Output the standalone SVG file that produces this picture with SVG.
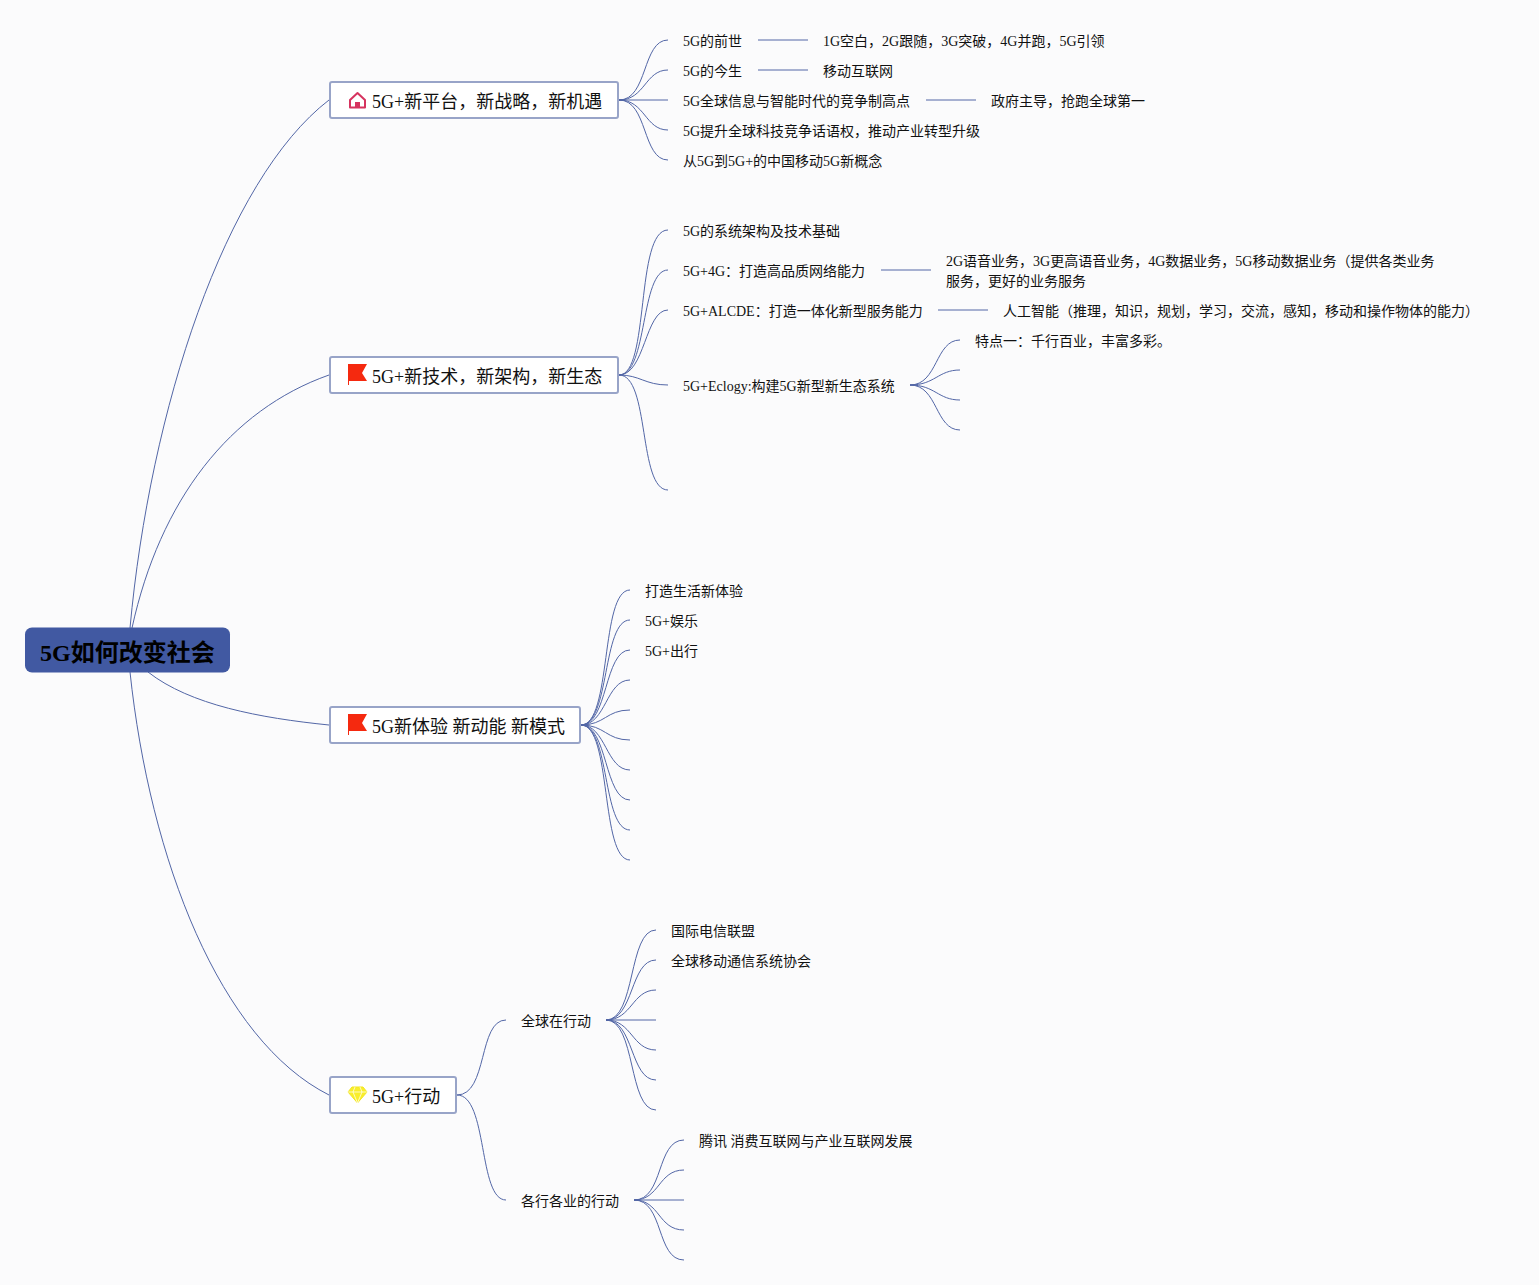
<svg xmlns="http://www.w3.org/2000/svg" width="1539" height="1285" viewBox="0 0 1539 1285">
<style>
text{font-family:"Liberation Serif","Noto Sans CJK SC",serif;fill:#111}
.l{font-size:14px}
.b{font-size:18px}
.r{font-size:24px;font-weight:bold;fill:#000}
.c path{fill:none;stroke:#5266a6;stroke-width:1}
.n{fill:#fff;stroke:#98a4c8;stroke-width:2}
</style>
<rect width="1539" height="1285" fill="#fbfbfc"/>
<g id="connectors" class="c">
<path d="M130 628C150 410 225 180 329 100"/>
<path d="M132 628C160 500 230 410 329 375"/>
<path d="M148 672C190 705 260 718 329 725"/>
<path d="M130 672C150 860 220 1040 329 1095"/>
<path d="M619 100C648 100 642 40 668 40"/>
<path d="M619 100C645 100 645 70 668 70"/>
<path d="M619 100H668"/>
<path d="M619 100C645 100 645 130 668 130"/>
<path d="M619 100C648 100 642 160 668 160"/>
<path d="M758 40H808"/><path d="M758 70H808"/><path d="M926 100H976"/>
<path d="M619 375C650 375 635 230 668 230"/>
<path d="M619 375C648 375 640 270 668 270"/>
<path d="M619 375C645 375 645 310 668 310"/>
<path d="M619 375C640 375 645 385 668 385"/>
<path d="M619 375C650 375 638 490 668 490"/>
<path d="M881 270H931"/><path d="M938 310H988"/>
<path d="M910 385C938 385 935 340 960 340"/>
<path d="M910 385C935 385 938 370 960 370"/>
<path d="M910 385C935 385 938 400 960 400"/>
<path d="M910 385C938 385 935 430 960 430"/>
<path d="M581 725C612 725 600 590 630 590"/>
<path d="M581 725C610 725 602 620 630 620"/>
<path d="M581 725C608 725 604 650 630 650"/>
<path d="M581 725C606 725 606 680 630 680"/>
<path d="M581 725C605 725 606 710 630 710"/>
<path d="M581 725C605 725 606 740 630 740"/>
<path d="M581 725C606 725 606 770 630 770"/>
<path d="M581 725C608 725 604 800 630 800"/>
<path d="M581 725C610 725 602 830 630 830"/>
<path d="M581 725C612 725 600 860 630 860"/>
<path d="M457 1095C488 1095 478 1020 506 1020"/>
<path d="M457 1095C488 1095 478 1200 506 1200"/>
<path d="M606 1020C636 1020 628 930 656 930"/>
<path d="M606 1020C634 1020 630 960 656 960"/>
<path d="M606 1020C632 1020 632 990 656 990"/>
<path d="M606 1020H656"/>
<path d="M606 1020C632 1020 632 1050 656 1050"/>
<path d="M606 1020C634 1020 630 1080 656 1080"/>
<path d="M606 1020C636 1020 628 1110 656 1110"/>
<path d="M634 1200C664 1200 656 1140 684 1140"/>
<path d="M634 1200C660 1200 658 1170 684 1170"/>
<path d="M634 1200H684"/>
<path d="M634 1200C660 1200 658 1230 684 1230"/>
<path d="M634 1200C664 1200 656 1260 684 1260"/>
</g>
<g id="root"><rect x="25" y="627.500" width="205" height="45" rx="7" fill="#4159a2"/><text class="r" x="40" y="661">5G如何改变社会</text></g>
<g id="b1"><rect class="n" x="330" y="82" width="288" height="36" rx="2"/>
<path d="M357.500 93L350 100V107.500H365V100Z" fill="#fff" stroke="#d6335f" stroke-width="2" stroke-linejoin="round"/><rect x="355" y="102" width="5" height="6" fill="#d6335f"/>
<text class="b" x="372" y="108">5G+新平台，新战略，新机遇</text></g>
<g id="b2"><rect class="n" x="330" y="357" width="288" height="36" rx="2"/>
<path d="M348 364H367L362 373L367 381H349V385H348Z" fill="#f5290f"/>
<text class="b" x="372" y="383">5G+新技术，新架构，新生态</text></g>
<g id="b3"><rect class="n" x="330" y="707" width="250" height="36" rx="2"/>
<path d="M348 714H367L362 723L367 731H349V735H348Z" fill="#f5290f"/>
<text class="b" x="372" y="733">5G新体验 新动能 新模式</text></g>
<g id="b4"><rect class="n" x="330" y="1077" width="126" height="36" rx="2"/>
<path d="M352 1087H363L367 1092L357.500 1103L348 1092Z" fill="#f9ee2c" stroke="#f3e620"/><path d="M348 1092H367M353 1092L357.500 1103L362 1092M355 1087L353 1092M360 1087L362 1092" fill="none" stroke="#fff" stroke-width=".7"/>
<text class="b" x="372" y="1103">5G+行动</text></g>
<g id="leaves">
<text class="l" x="683" y="46">5G的前世</text>
<text class="l" x="823" y="46">1G空白，2G跟随，3G突破，4G并跑，5G引领</text>
<text class="l" x="683" y="76">5G的今生</text>
<text class="l" x="823" y="76">移动互联网</text>
<text class="l" x="683" y="106">5G全球信息与智能时代的竞争制高点</text>
<text class="l" x="991" y="106">政府主导，抢跑全球第一</text>
<text class="l" x="683" y="136">5G提升全球科技竞争话语权，推动产业转型升级</text>
<text class="l" x="683" y="166">从5G到5G+的中国移动5G新概念</text>
<text class="l" x="683" y="236">5G的系统架构及技术基础</text>
<text class="l" x="683" y="276">5G+4G：打造高品质网络能力</text>
<text class="l" x="946" y="266">2G语音业务，3G更高语音业务，4G数据业务，5G移动数据业务（提供各类业务</text>
<text class="l" x="946" y="286">服务，更好的业务服务</text>
<text class="l" x="683" y="316">5G+ALCDE：打造一体化新型服务能力</text>
<text class="l" x="1003" y="316">人工智能（推理，知识，规划，学习，交流，感知，移动和操作物体的能力）</text>
<text class="l" x="683" y="391">5G+Eclogy:构建5G新型新生态系统</text>
<text class="l" x="975" y="346">特点一：千行百业，丰富多彩。</text>
<text class="l" x="645" y="596">打造生活新体验</text>
<text class="l" x="645" y="626">5G+娱乐</text>
<text class="l" x="645" y="656">5G+出行</text>
<text class="l" x="521" y="1026">全球在行动</text>
<text class="l" x="521" y="1206">各行各业的行动</text>
<text class="l" x="671" y="936">国际电信联盟</text>
<text class="l" x="671" y="966">全球移动通信系统协会</text>
<text class="l" x="699" y="1146">腾讯 消费互联网与产业互联网发展</text>
</g>
</svg>
